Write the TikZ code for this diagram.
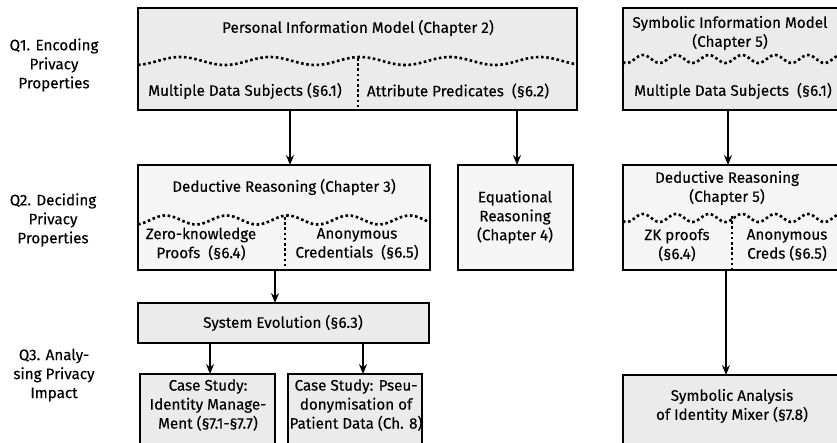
\documentclass[tikz,border=0pt]{standalone}
\usepackage{fontspec}
\setmainfont{Fira Sans}[RawFeature={embolden=0.2}]
\usetikzlibrary{arrows.meta}
\definecolor{boxgray}{HTML}{EBEBEB}
\definecolor{boxlight}{HTML}{F5F5F5}

\begin{document}
\begin{tikzpicture}[x=1pt,y=-1pt,
  font=\fontsize{15.2}{19}\selectfont,
  box/.style={draw, line width=1.8pt, fill=boxgray, inner sep=0pt, outer sep=0pt},
  lightbox/.style={box, fill=boxlight},
  txt/.style={align=center, inner sep=0pt},
  sep/.style={line width=2.6pt, dash pattern=on 2.6pt off 2.6pt},
  arr/.style={line width=1.6pt, -{Stealth[length=10pt,width=8pt,inset=3.5pt]}}]
\useasboundingbox (0,0) rectangle (837,443);

% question labels
\node[txt] (q1) at (54,65) {Q1. Encoding\\Privacy\\Properties};
\node[txt] (q2) at (53,220) {Q2. Deciding\\Privacy\\Properties};
\node[txt] (q3) at (54,375) {Q3. Analy-\\sing Privacy\\Impact};

% boxes
\node[box, minimum width=439pt, minimum height=102pt] (pim) at (357.5,59) {};
\node[box, minimum width=220pt, minimum height=102pt] (sim) at (733,59) {};
\node[lightbox, minimum width=292pt, minimum height=105pt] (ded) at (284,217.5) {};
\node[lightbox, minimum width=115pt, minimum height=105pt] (eqr) at (515.5,217.5) {};
\node[lightbox, minimum width=220pt, minimum height=105pt] (dr5) at (733,217.5) {};
\node[box, minimum width=291pt, minimum height=40pt] (sev) at (283.5,323) {};
\node[box, minimum width=135pt, minimum height=90pt] (cs1) at (207.5,419) {};
\node[box, minimum width=134pt, minimum height=90pt] (cs2) at (355,419) {};
\node[box, minimum width=220pt, minimum height=90pt] (sam) at (733,420) {};

% wavy dotted separators (phase factors: 360/period)
\draw[sep] plot[domain=138:577, samples=150, smooth] (\x, {61+4*cos(4*(\x-135))});
\draw[sep] (358,58) -- (pim.south -| 358,0);
\draw[sep] plot[domain=623:837, samples=150, smooth] (\x, {59-4*cos(10.909*(\x-643))});
\draw[sep] plot[domain=138:430, samples=120, smooth] (\x, {220+4.5*cos(5.9016*(\x-135))});
\draw[sep] (285,217) -- (ded.south -| 285,0);
\draw[sep] plot[domain=623:837, samples=150, smooth] (\x, {218-4*cos(10.909*(\x-643))});
\draw[sep] (732,216) -- (dr5.south -| 732,0);

% box texts
\node[txt] (t-pim) at (358,28) {Personal Information Model (Chapter 2)};
\node[txt] (t-mds) at (245,91) {Multiple Data Subjects (§6.1)};
\node[txt] (t-ap) at (458,91) {Attribute Predicates\ \ (§6.2)};
\node[txt] (t-sim) at (730,33) {Symbolic Information Model\\(Chapter 5)};
\node[txt] (t-mds5) at (733,91) {Multiple Data Subjects\ \ (§6.1)};
\node[txt] (t-ded) at (284,187) {Deductive Reasoning (Chapter 3)};
\node[txt] (t-zk) at (201,244) {Zero-knowledge\\Proofs\ \ (§6.4)};
\node[txt] (t-ac) at (357,244) {Anonymous\\Credentials\ \ (§6.5)};
\node[txt] (t-eqr) at (515,217) {Equational\\Reasoning\\(Chapter 4)};
\node[txt] (t-dr5) at (727,188) {Deductive Reasoning\\(Chapter 5)};
\node[txt] (t-zk5) at (677,245) {ZK proofs\\(§6.4)};
\node[txt] (t-ac5) at (787,245) {Anonymous\\Creds (§6.5)};
\node[txt] (t-sev) at (283,323) {System Evolution (§6.3)};
\node[txt] (t-cs1) at (208,405) {Case Study:\\Identity Manage-\\Ment (§7.1-§7.7)};
\node[txt] (t-cs2) at (356,405) {Case Study: Pseu-\\donymisation of\\Patient Data (Ch. 8)};
\node[txt] (t-sam) at (732,406) {Symbolic Analysis\\of Identity Mixer (§7.8)};

% connectors
\coordinate (xa) at (290,0);
\coordinate (xb) at (517,0);
\coordinate (xc) at (728,0);
\coordinate (xd) at (275,0);
\coordinate (xe) at (210,0);
\coordinate (xf) at (363,0);
\coordinate (xg) at (726,0);
\draw[arr] (pim.south -| xa) -- (ded.north -| xa);
\draw[arr] (pim.south -| xb) -- (eqr.north -| xb);
\draw[arr] (sim.south -| xc) -- (dr5.north -| xc);
\draw[arr] (ded.south -| xd) -- (sev.north -| xd);
\draw[arr] (sev.south -| xe) -- (cs1.north -| xe);
\draw[arr] (sev.south -| xf) -- (cs2.north -| xf);
\draw[arr] (dr5.south -| xg) -- (sam.north -| xg);
\end{tikzpicture}
\end{document}
